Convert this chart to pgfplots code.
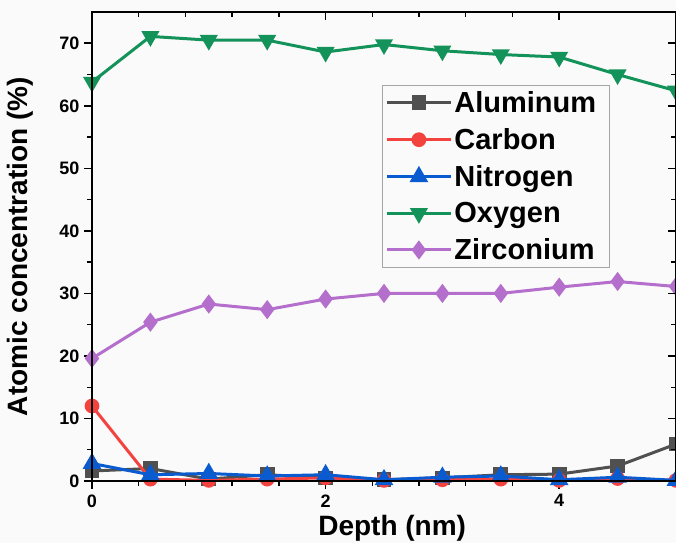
\documentclass[border=0pt]{standalone}
\usepackage{pgfplots}
\pgfplotsset{compat=1.18}
\usepackage{fontspec}
\setmainfont{Liberation Sans}
\definecolor{bg}{HTML}{FAFAFA}
\definecolor{cAl}{HTML}{505050}
\definecolor{cC}{HTML}{F4433F}
\definecolor{cN}{HTML}{0A5AD0}
\definecolor{cO}{HTML}{13935A}
\definecolor{cZr}{HTML}{B46ECC}
\begin{document}
\begin{tikzpicture}
\fill[bg] (-92pt,-62pt) rectangle (584pt,481pt);
\pgfplotsset{
  common/.style={
    at={(0pt,0pt)}, anchor=south west,
    scale only axis, width=584pt, height=469pt,
    xmin=0, xmax=5, ymin=0, ymax=75,
    xtick={0,2,4}, minor x tick num=4,
    ytick={0,10,...,70}, minor y tick num=1,
    major tick length=8pt, minor tick length=5pt,
    every tick/.style={black, line width=1.6pt},
    every minor tick/.style={black, line width=1.4pt},
    axis line style={black, line width=2pt},
    /pgf/number format/assume math mode=true,
    ticklabel style={font=\fontsize{18}{20}\selectfont\bfseries},
  },
  pl/.style={line width=3pt, mark size=6.5pt},
}
\begin{axis}[common,
  tick pos=left, tick align=outside,
  xticklabel style={yshift=-2pt},
  yticklabel style={xshift=-1pt},
  clip mode=individual,
  xlabel={Depth (nm)}, ylabel={Atomic concentration (\%)},
  xlabel style={font=\fontsize{28}{30}\selectfont\bfseries, at={(axis description cs:0.514,-0.117)}, anchor=base},
  ylabel style={font=\fontsize{28}{30}\selectfont\bfseries, at={(axis description cs:-0.122,0.5)}, anchor=center, rotate=0},
  legend style={at={(axis description cs:0.4966,0.8443)}, anchor=north west,
    draw=gray!70, line width=0.8pt, fill=bg,
    font=\fontsize{29}{30}\selectfont\bfseries,
    row sep=10.5pt, inner xsep=3pt, inner ysep=4pt},
  legend cell align=left,
  legend image code/.code={\draw[mark repeat=2,mark phase=2,#1] plot coordinates {(0pt,0pt) (32pt,0pt) (64pt,0pt)};},
]
\addplot[pl, cAl, mark=square*, mark options={solid, fill=cAl, scale=0.9}] coordinates {
(0,1.6) (0.5,2.0) (1,0.3) (1.5,1.0) (2,0.5) (2.5,0.2) (3,0.5) (3.5,1.0) (4,1.1) (4.5,2.4) (5,5.9)};
\addlegendentry{Aluminum\hbox to 8pt{}}
\addplot[pl, cC, mark=*, mark options={solid, fill=cC, scale=0.9}] coordinates {
(0,12.0) (0.5,0.3) (1,0.1) (1.5,0.3) (2,0.5) (2.5,0.1) (3,0.2) (3.5,0.3) (4,0.1) (4.5,0.4) (5,0.1)};
\addlegendentry{Carbon}
\addplot[pl, cN, mark=triangle*, mark options={solid, fill=cN, scale=1.2}] coordinates {
(0,2.8) (0.5,1.0) (1,1.2) (1.5,0.8) (2,1.0) (2.5,0.2) (3,0.6) (3.5,0.8) (4,0.2) (4.5,0.6) (5,0.1)};
\addlegendentry{Nitrogen}
\addplot[pl, cO, mark=triangle*, mark options={solid, fill=cO, rotate=180, scale=1.15}] coordinates {
(0,63.8) (0.5,71.1) (1,70.5) (1.5,70.5) (2,68.6) (2.5,69.8) (3,68.8) (3.5,68.2) (4,67.8) (4.5,65.0) (5,62.4)};
\addlegendentry{Oxygen}
\addplot[pl, cZr, mark=diamond*, mark options={solid, fill=cZr, scale=1.1}] coordinates {
(0,19.6) (0.5,25.4) (1,28.3) (1.5,27.4) (2,29.1) (2.5,30.0) (3,30.0) (3.5,30.0) (4,31.0) (4.5,31.9) (5,31.1)};
\addlegendentry{Zirconium}
\end{axis}
\begin{axis}[common,
  tick pos=right, tick align=inside,
  xticklabels={}, yticklabels={},
]
\end{axis}
\pgfresetboundingbox
\path[use as bounding box] (-92pt,-62pt) rectangle (584pt,481pt);
\end{tikzpicture}
\end{document}
